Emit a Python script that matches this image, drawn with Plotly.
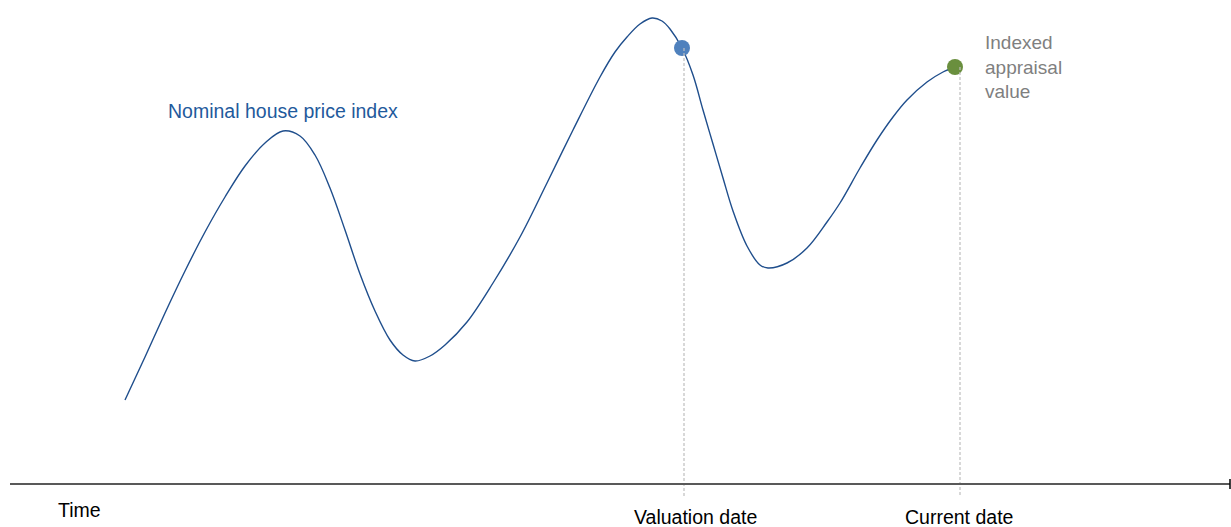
import plotly.graph_objects as go

# Curve (x: time position, y: index level in picture units, smaller = higher)
curve_x = [125, 145, 165, 185, 205, 225, 245, 265, 283,
           300, 315, 330, 345, 360, 375, 390, 403, 415,
           430, 445, 467, 493, 520, 547, 573, 600, 615, 627, 640, 652,
           662, 670, 682, 693, 703, 713, 723, 733, 747, 760, 768,
           787, 807, 827, 840, 860, 877, 893, 907, 927, 943, 955]
curve_y = [400, 357, 313, 271, 232, 197, 166, 143, 131,
           136, 155, 188, 230, 274, 311, 340, 355, 361,
           356, 345, 322, 283, 237, 183, 130, 77, 52, 37, 24, 18,
           21, 29, 48, 75, 110, 144, 178, 211, 246, 265, 268,
           263, 248, 222, 203, 168, 140, 117, 100, 82, 72, 67]

valuation_x, valuation_y = 682, 48
current_x, current_y = 955, 67

curve_label = "Nominal house price index"
point_label = "Indexed<br>appraisal<br>value"
axis_labels = ["Time", "Valuation date", "Current date"]

W, H = 1231, 527
axis_y = 484
blue = "#1F4E8C"

fig = go.Figure()
fig.add_trace(go.Scatter(x=curve_x, y=curve_y, mode="lines",
                         line=dict(color=blue, width=1.4, shape="spline", smoothing=1.0),
                         hoverinfo="skip", showlegend=False))

# dashed guides
fig.add_shape(type="line", x0=valuation_x + 2, x1=valuation_x + 2, y0=valuation_y, y1=498,
              line=dict(color="#BFBFBF", width=1.2, dash="3px,2px"))
fig.add_shape(type="line", x0=current_x + 5, x1=current_x + 5, y0=current_y, y1=497,
              line=dict(color="#BFBFBF", width=1.2, dash="3px,2px"))

# time axis
fig.add_shape(type="line", x0=10, x1=1230, y0=axis_y, y1=axis_y, line=dict(color="#595959", width=1.8))
fig.add_shape(type="line", x0=1230, x1=1230, y0=axis_y - 5, y1=axis_y + 5, line=dict(color="#000000", width=1.5))

fig.add_trace(go.Scatter(x=[valuation_x], y=[valuation_y], mode="markers",
                         marker=dict(color="#4F81BD", size=16), hoverinfo="skip", showlegend=False))
fig.add_trace(go.Scatter(x=[current_x], y=[current_y], mode="markers",
                         marker=dict(color="#6A8F3E", size=16), hoverinfo="skip", showlegend=False))

font = "Liberation Sans, Arial, sans-serif"
fig.add_annotation(x=166, y=111, text=curve_label, showarrow=False, xanchor="left", yanchor="middle",
                   font=dict(family=font, size=19.5, color="#1F5A9C"))
fig.add_annotation(x=983, y=67, text=point_label, showarrow=False, xanchor="left", yanchor="middle",
                   align="left", font=dict(family=font, size=19, color="#7F7F7F"))
fig.add_annotation(x=56, y=510, text=axis_labels[0], showarrow=False, xanchor="left", yanchor="middle",
                   font=dict(family=font, size=19.5, color="#000000"))
fig.add_annotation(x=695, y=517, text=axis_labels[1], showarrow=False, xanchor="center", yanchor="middle",
                   font=dict(family=font, size=19.5, color="#000000"))
fig.add_annotation(x=959, y=517, text=axis_labels[2], showarrow=False, xanchor="center", yanchor="middle",
                   font=dict(family=font, size=19.5, color="#000000"))

fig.update_xaxes(range=[0, W], visible=False, fixedrange=True)
fig.update_yaxes(range=[H, 0], visible=False, fixedrange=True)
fig.update_layout(width=W, height=H, margin=dict(l=0, r=0, t=0, b=0),
                  plot_bgcolor="white", paper_bgcolor="white")
fig.write_html("out.html", config={"displayModeBar": False},
               post_script="document.body.style.margin='0';document.body.style.overflow='hidden';")
